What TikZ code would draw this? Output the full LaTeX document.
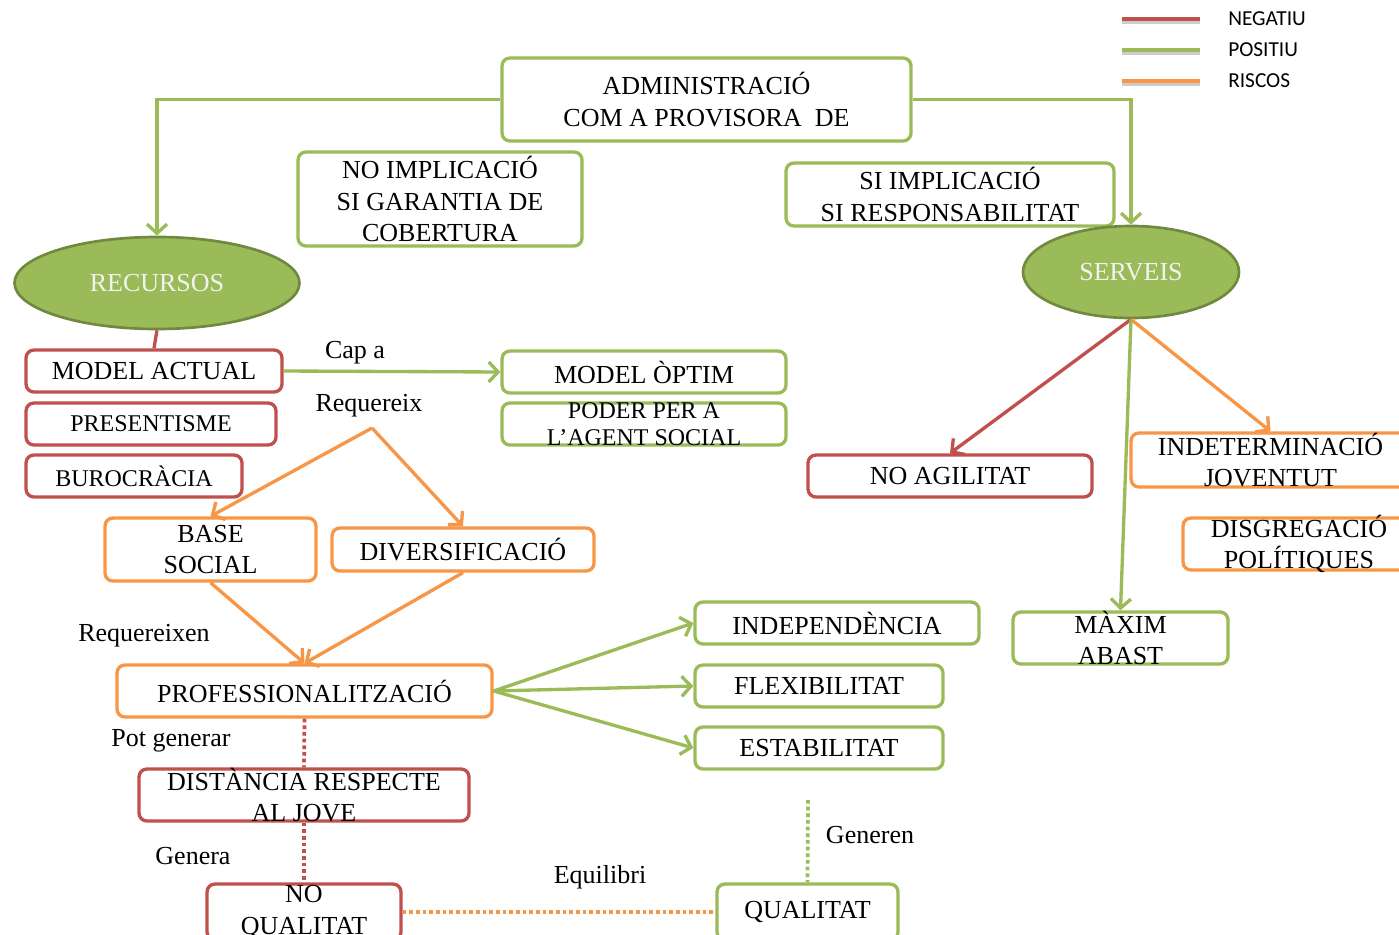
\documentclass[tikz,border=0pt]{standalone}
\usepackage{fontspec}
\setmainfont{Liberation Serif}
\newfontfamily\legfont{Carlito}
\usetikzlibrary{arrows.meta,shapes.geometric}
\definecolor{cred}{HTML}{C0504D}
\definecolor{cgreen}{HTML}{9BBB59}
\definecolor{corange}{HTML}{F79646}
\definecolor{cdkgreen}{HTML}{71893F}
\begin{document}
\begin{tikzpicture}[x=0.75pt,y=-0.75pt,
  box/.style={draw, line width=2.5pt, rounded corners=6pt, fill=white, inner sep=0pt},
  gbox/.style={box, draw=cgreen},
  rbox/.style={box, draw=cred},
  obox/.style={box, draw=corange},
  sz/.style n args={2}{minimum width=#1*0.75pt, minimum height=#2*0.75pt},
  tx/.style={font=\fontsize{19.5}{23.5}\selectfont, align=center, inner sep=0pt},
  txs/.style={font=\fontsize{18}{20.5}\selectfont, align=center, inner sep=0pt},
  lab/.style={font=\fontsize{19.5}{23.5}\selectfont, inner sep=0pt},
  ell/.style={ellipse, draw=cdkgreen, line width=2pt, fill=cgreen, inner sep=0pt,
    text=white!95!black, font=\fontsize{19.5}{23.5}\selectfont},
  con/.style={line width=2.5pt},
  arr/.style={con, -{Straight Barb[length=7pt,width=15pt]}},
  dot/.style={line width=2.8pt, dash pattern=on 2.8pt off 2.2pt},
  leg/.style={font=\legfont\fontsize{16}{19}\selectfont, anchor=west, inner sep=0pt},
  legline/.style={line width=3.2pt}
]
\useasboundingbox (0,0) rectangle (1399,935);

% legend
\coordinate (l1a) at (1122,19); \coordinate (l1b) at (1200,19);
\coordinate (l2a) at (1122,50); \coordinate (l2b) at (1200,50);
\coordinate (l3a) at (1122,81); \coordinate (l3b) at (1200,81);
\foreach \a/\b/\c in {l1a/l1b/cred, l2a/l2b/cgreen, l3a/l3b/corange}{
  \draw[legline, black!20, transform canvas={yshift=-2pt}] (\a) -- (\b);
  \draw[legline, \c] (\a) -- (\b);
}
\node[leg] (lneg) at (1228,19) {NEGATIU};
\node[leg] (lpos) at (1228,50) {POSITIU};
\node[leg] (lris) at (1228,81) {RISCOS};

% top nodes
\node[gbox, sz={409}{83}, label={[tx]center:{ADMINISTRACIÓ\\COM A PROVISORA~ DE}}] (adm) at (706.5,99.5) {};
\node[gbox, sz={284}{94}, label={[tx]center:{NO IMPLICACIÓ\\SI GARANTIA DE\\COBERTURA}}] (noimp) at (440,199) {};
\node[gbox, sz={328}{63}, label={[tx]center:{SI IMPLICACIÓ\\SI RESPONSABILITAT}}] (siimp) at (950,194.5) {};

\node[ell, minimum width=285*0.75pt, minimum height=92*0.75pt] (rec) at (157,283) {RECURSOS};
\node[ell, minimum width=216*0.75pt, minimum height=92*0.75pt] (ser) at (1131,272) {SERVEIS};

% left column
\node[rbox, sz={256}{42}, label={[tx]center:{MODEL ACTUAL}}] (mact) at (154,371) {};
\node[rbox, sz={250}{42}, label={[txs]center:{PRESENTISME}}] (pres) at (151,424) {};
\node[rbox, sz={216}{42}, label={[txs]center:{BUROCRÀCIA}}] (buro) at (134,476) {};
\node[gbox, sz={284}{42}, label={[tx]center:{MODEL ÒPTIM}}] (mopt) at (644,372) {};
\node[gbox, sz={284}{42}, label={[txs]center:{PODER PER A\\L’AGENT SOCIAL}}] (poder) at (644,424) {};

\node[obox, sz={211}{63}, label={[tx]center:{BASE\\SOCIAL}}] (base) at (210.5,549.5) {};
\node[obox, sz={262}{43}, label={[tx]center:{DIVERSIFICACIÓ}}] (div) at (463,549.5) {};
\node[obox, sz={375}{52}, label={[tx]center:{PROFESSIONALITZACIÓ}}] (prof) at (304.5,691) {};

\node[gbox, sz={284}{42}, label={[tx]center:{INDEPENDÈNCIA}}] (ind) at (837,623) {};
\node[gbox, sz={248}{42}, label={[tx]center:{FLEXIBILITAT}}] (flex) at (819,686) {};
\node[gbox, sz={248}{42}, label={[tx]center:{ESTABILITAT}}] (est) at (819,748) {};

\node[rbox, sz={330}{52}, label={[tx]center:{DISTÀNCIA RESPECTE\\AL JOVE}}] (dist) at (304,795) {};
\node[rbox, sz={194}{56}, label={[tx]center:{NO\\QUALITAT}}] (noq) at (304,912) {};
\node[gbox, sz={181}{56}, label={[tx]center:{QUALITAT}}] (qual) at (807.5,912) {};

% right column
\node[rbox, sz={284}{42}, label={[tx]center:{NO AGILITAT}}] (noag) at (950,476) {};
\node[obox, sz={279}{54}, label={[tx]center:{INDETERMINACIÓ\\JOVENTUT}}] (indet) at (1270.5,460) {};
\node[obox, sz={232}{52}, label={[tx]center:{DISGREGACIÓ\\POLÍTIQUES}}] (disg) at (1299,544) {};
\node[gbox, sz={215}{52}, label={[tx]center:{MÀXIM\\ABAST}}] (max) at (1120.5,638) {};

% connector labels
\node[lab] (tcapa) at (355,353) {Cap a};
\node[lab] (treq) at (369,406) {Requereix};
\node[lab] (treqx) at (144,636) {Requereixen};
\node[lab] (tpot) at (171,741) {Pot generar};
\node[lab] (tgen) at (193,856) {Genera};
\node[lab] (tequ) at (600,877) {Equilibri};
\node[lab] (tgenr) at (870,835) {Generen};

% connectors
\draw[arr, cgreen] (adm.west) -| (rec.north);
\draw[arr, cgreen] (adm.east) -| (ser.north);
\draw[con, cred] (rec.south) -- (mact.north);
\draw[arr, cgreen] (mact.east) -- (mopt.west);

\coordinate (req) at (372,428);
\draw[arr, corange] (req) -- (base.north);
\draw[arr, corange] (req) -- (div.north);
\draw[arr, corange] (base.south) -- (prof.north);
\draw[arr, corange] (div.south) -- (prof.north);

\draw[arr, cgreen] (prof.east) -- (ind.west);
\draw[arr, cgreen] (prof.east) -- (flex.west);
\draw[arr, cgreen] (prof.east) -- (est.west);

\draw[dot, cred] (prof.south) -- (dist.north);
\draw[dot, cred] (dist.south) -- (noq.north);
\draw[dot, corange] (noq.east) -- (qual.west);
\coordinate (gtop) at (808,800);
\draw[dot, cgreen] (gtop) -- (qual.north);

\draw[arr, cred] (ser.south) -- (noag.north);
\draw[arr, corange] (ser.south) -- (indet.north);
\draw[arr, cgreen] (ser.south) -- (max.north);
\end{tikzpicture}
\end{document}
